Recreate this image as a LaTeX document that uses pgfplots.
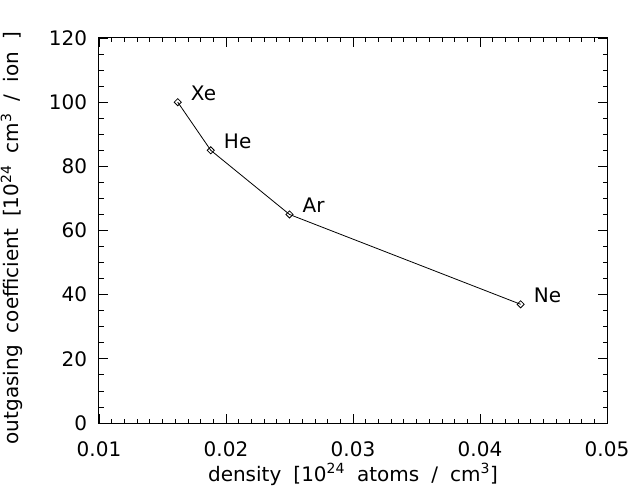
\documentclass[border=0pt]{standalone}
\usepackage{fontspec}
\setmainfont{DejaVu Sans}[WordSpace=1.9]
\usepackage{pgfplots}
\pgfplotsset{compat=1.18}
\begin{document}
\fontsize{20bp}{24bp}\selectfont
\begin{tikzpicture}
\begin{axis}[name=ax,
  scale only axis, width=508bp, height=385bp,
  xmin=0.01, xmax=0.05, ymin=0, ymax=120,
  xtick={0.01,0.02,0.03,0.04,0.05}, ytick={0,20,...,120},
  minor x tick num=9, minor y tick num=3,
  tick align=inside,
  major tick length=9bp, minor tick length=4.5bp,
  axis line style={line width=1bp},
  every tick/.style={line width=0.8bp, black},
  scaled x ticks=false,
  /pgf/number format/assume math mode=true,
  xticklabel style={/pgf/number format/fixed, /pgf/number format/precision=2, /pgf/number format/fixed zerofill},
  xticklabel shift=12bp,
  yticklabel shift=5bp,
  every tick label/.append style={font=\fontsize{20bp}{24bp}\selectfont},
  xlabel={density [10\textsuperscript{24} atoms / cm\textsuperscript{3}]},
  ylabel={outgasing coefficient [10\textsuperscript{24} cm\textsuperscript{3} / ion ]},
  xlabel style={at={(axis description cs:0.5,0)}, anchor=base, yshift=-58bp, font=\fontsize{20bp}{24bp}\selectfont},
  ylabel style={at={(axis description cs:-0.158,0.48)}, anchor=base, font=\fontsize{20bp}{24bp}\selectfont},
  clip=false,
]
\addplot[black, line width=0.8bp, mark=square, mark size=2.5bp, mark options={solid, fill=white, rotate=45, line width=0.8bp}]
  coordinates {(0.0162,100) (0.0188,85) (0.0250,65) (0.0432,37)};
\node[anchor=west, inner sep=0pt, xshift=13bp, yshift=9bp, font=\fontsize{20bp}{24bp}\selectfont] at (axis cs:0.0162,100) {Xe};
\node[anchor=west, inner sep=0pt, xshift=13bp, yshift=9bp, font=\fontsize{20bp}{24bp}\selectfont] at (axis cs:0.0188,85) {He};
\node[anchor=west, inner sep=0pt, xshift=13bp, yshift=9bp, font=\fontsize{20bp}{24bp}\selectfont] at (axis cs:0.0250,65) {Ar};
\node[anchor=west, inner sep=0pt, xshift=13bp, yshift=9bp, font=\fontsize{20bp}{24bp}\selectfont] at (axis cs:0.0432,37) {Ne};
\end{axis}
\pgfresetboundingbox
\path ([shift={(-99bp,-67bp)}]ax.south west) rectangle ([shift={(29bp,38bp)}]ax.north east);
\end{tikzpicture}
\end{document}
